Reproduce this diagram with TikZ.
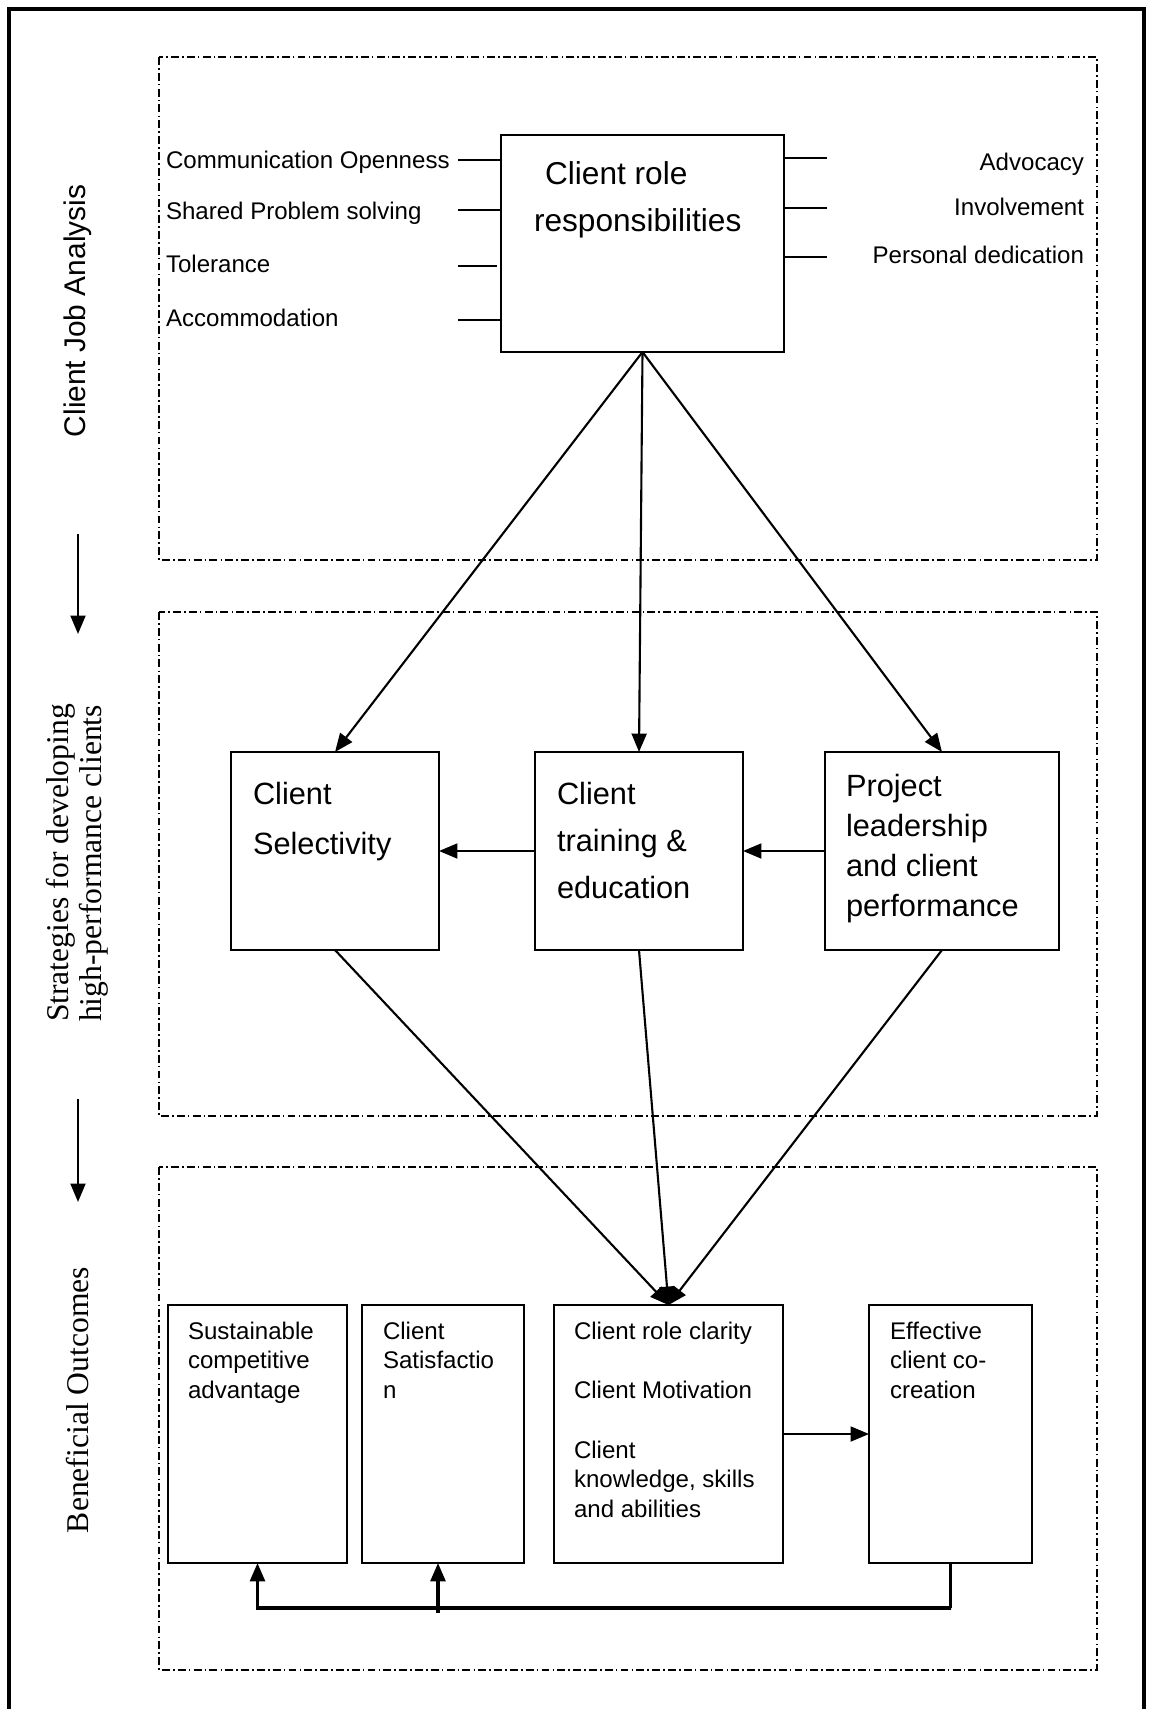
\documentclass[tikz,border=0pt]{standalone}
\usepackage{fontspec}
\setmainfont{Liberation Sans}
\newfontfamily\serifface{Liberation Serif}
\usetikzlibrary{arrows.meta,calc}

\begin{document}
\begin{tikzpicture}[x=0.02cm,y=-0.02cm,
  every node/.style={inner sep=0pt, outer sep=0pt},
  frame/.style={line width=2pt},
  stage/.style={draw, line width=0.9pt, dash pattern=on 4.5pt off 1.8pt on 0.9pt off 1.8pt},
  box/.style={draw, line width=1.2pt, rectangle},
  head/.style={-{Triangle[length=10.5pt,width=8.5pt]}},
  link/.style={line width=1.2pt, head},
  loop/.style={line width=1.8pt},
  tick/.style={line width=1.2pt},
  small/.style={font=\fontsize{13.7}{16.8}\selectfont, align=left},
  big/.style={font=\fontsize{17.5}{28.5}\selectfont, align=left, anchor=north west},
  sidesans/.style={font=\fontsize{17}{20}\selectfont, rotate=90},
  sideserif/.style={font=\serifface\fontsize{18}{18.8}\selectfont, rotate=90, align=left},
]
% page extent
\useasboundingbox (0,0) rectangle (1152,1709);

% outer frame, open at the bottom
\draw[frame] (9,1709) |- (1144,9) -- (1144,1709);

% the three stage panels
\draw[stage] (159,57) rectangle (1097,560);
\draw[stage] (159,612) rectangle (1097,1116);
\draw[stage] (159,1167) rectangle (1097,1670);

% stage captions and arrows between them
\node[sidesans] (cja) at (78,311) {Client Job Analysis};
\node[sideserif] (strat) at (77,863) {Strategies for developing\\high-performance clients};
\node[sideserif, align=center] (bo) at (78,1400) {Beneficial Outcomes};
\coordinate (s1a) at (78,534);
\coordinate (s1b) at (78,634);
\coordinate (s2a) at (78,1099);
\coordinate (s2b) at (78,1202);
\draw[link] (s1a) -- (s1b);
\draw[link] (s2a) -- (s2b);

% ---- client job analysis ----
\node[box, minimum width=283*0.02cm, minimum height=217*0.02cm] (crr) at (642.5,243.5) {};
\node[font=\fontsize{18}{26.7}\selectfont, align=left, anchor=north west] (crrtxt) at (534,162)
  {\hspace*{6.3pt}Client role\\responsibilities};

\node[small, anchor=mid west] (lco) at (166,164) {Communication Openness};
\node[small, anchor=mid west] (lsp) at (166,215) {Shared Problem solving};
\node[small, anchor=mid west] (lto) at (166,268) {Tolerance};
\node[small, anchor=mid west] (lac) at (166,322) {Accommodation};

\node[small, anchor=mid east] (rad) at (1084,166) {Advocacy};
\node[small, anchor=mid east] (rin) at (1084,211) {Involvement};
\node[small, anchor=mid east] (rpd) at (1084,259) {Personal dedication};

\coordinate (tl1) at (458,160);
\coordinate (tl2) at (458,210);
\coordinate (tl3) at (458,266);
\coordinate (tl3e) at (497,266);
\coordinate (tl4) at (458,320);
\draw[tick] (tl1) -- (tl1 -| crr.west);
\draw[tick] (tl2) -- (tl2 -| crr.west);
\draw[tick] (tl3) -- (tl3e);
\draw[tick] (tl4) -- (tl4 -| crr.west);

\coordinate (tr1) at (827,158);
\coordinate (tr2) at (827,208);
\coordinate (tr3) at (827,257);
\draw[tick] (tr1 -| crr.east) -- (tr1);
\draw[tick] (tr2 -| crr.east) -- (tr2);
\draw[tick] (tr3 -| crr.east) -- (tr3);

% ---- strategies ----
\node[box, minimum width=208*0.02cm, minimum height=198*0.02cm] (cs) at (335,851) {};
\node[box, minimum width=208*0.02cm, minimum height=198*0.02cm] (ct) at (639,851) {};
\node[box, minimum width=234*0.02cm, minimum height=198*0.02cm] (pl) at (942,851) {};

\node[big] (cstxt) at (253,782) {Client\\Selectivity};
\node[big, font=\fontsize{17.5}{26.7}\selectfont] (cttxt) at (557,782) {Client\\training \&\\education};
\node[big, font=\fontsize{17.5}{22.8}\selectfont] (pltxt) at (846,774) {Project\\leadership\\and client\\performance};

\draw[link] (crr.south) -- (cs.north);
\draw[link] (crr.south) -- (ct.north);
\draw[link] (crr.south) -- (pl.north);

\draw[link] (ct.west) -- (cs.east);
\draw[link] (pl.west) -- (ct.east);

% ---- outcomes ----
\node[box, minimum width=179*0.02cm, minimum height=258*0.02cm] (sca) at (257.5,1434) {};
\node[box, minimum width=162*0.02cm, minimum height=258*0.02cm] (sat) at (443,1434) {};
\node[box, minimum width=229*0.02cm, minimum height=258*0.02cm] (crc) at (668.5,1434) {};
\node[box, minimum width=163*0.02cm, minimum height=258*0.02cm] (ecc) at (950.5,1434) {};

\node[small, anchor=north west] (scatxt) at (188,1322) {Sustainable\\competitive\\advantage};
\node[small, anchor=north west] (sattxt) at (383,1322) {Client\\Satisfactio\\n};
\node[small, anchor=north west] (crctxt) at (574,1322)
  {Client role clarity\\[17pt]Client Motivation\\[17pt]Client\\knowledge, skills\\and abilities};
\node[small, anchor=north west] (ecctxt) at (890,1322) {Effective\\client co-\\creation};

\draw[link] (cs.south) -- (crc.north);
\draw[link] (ct.south) -- (crc.north);
\draw[link] (pl.south) -- (crc.north);

\draw[link] (crc.east) -- (ecc.west);

% feedback from co-creation to the two left outcomes
\coordinate (fb) at (951,1608);
\coordinate (fsat) at (438,1613);
\draw[loop, head] (ecc.south) |- (fb) -| (sca.south);
\draw[loop, head] (fsat) -- (fsat |- sat.south);
\end{tikzpicture}
\end{document}
